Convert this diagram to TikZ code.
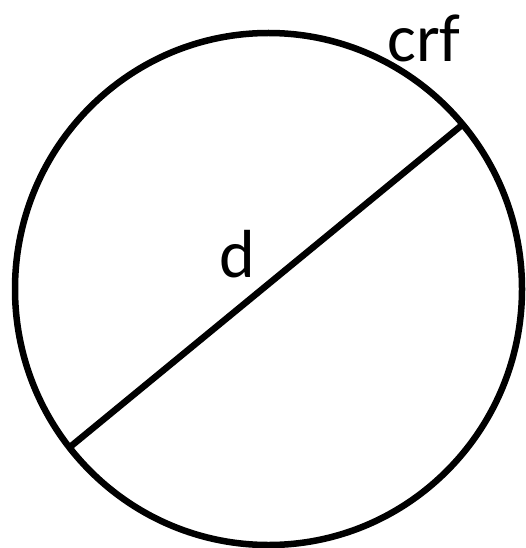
\documentclass[tikz,border=0pt]{standalone}
\usepackage{fontspec}
\usetikzlibrary{shapes.geometric}
\setmainfont{Carlito}
\begin{document}
\begin{tikzpicture}[x=1pt,y=-1pt,
  lbl/.style={font=\fontsize{68}{80}\selectfont, inner sep=0pt, anchor=base},
  stroke/.style={line width=6.5pt}]
\useasboundingbox (0,0) rectangle (525,548);
\node[stroke, draw, ellipse, minimum width=507pt, minimum height=512pt, inner sep=0pt] (c) at (268.5,289) {};
\coordinate (p1) at (70,447);
\coordinate (p2) at (462,125);
\draw[stroke] (p1) -- (p2);
\node[lbl] (d) at (237.5,277) {d};
\node[lbl] (crf) at (424,62) {crf};
\end{tikzpicture}
\end{document}
